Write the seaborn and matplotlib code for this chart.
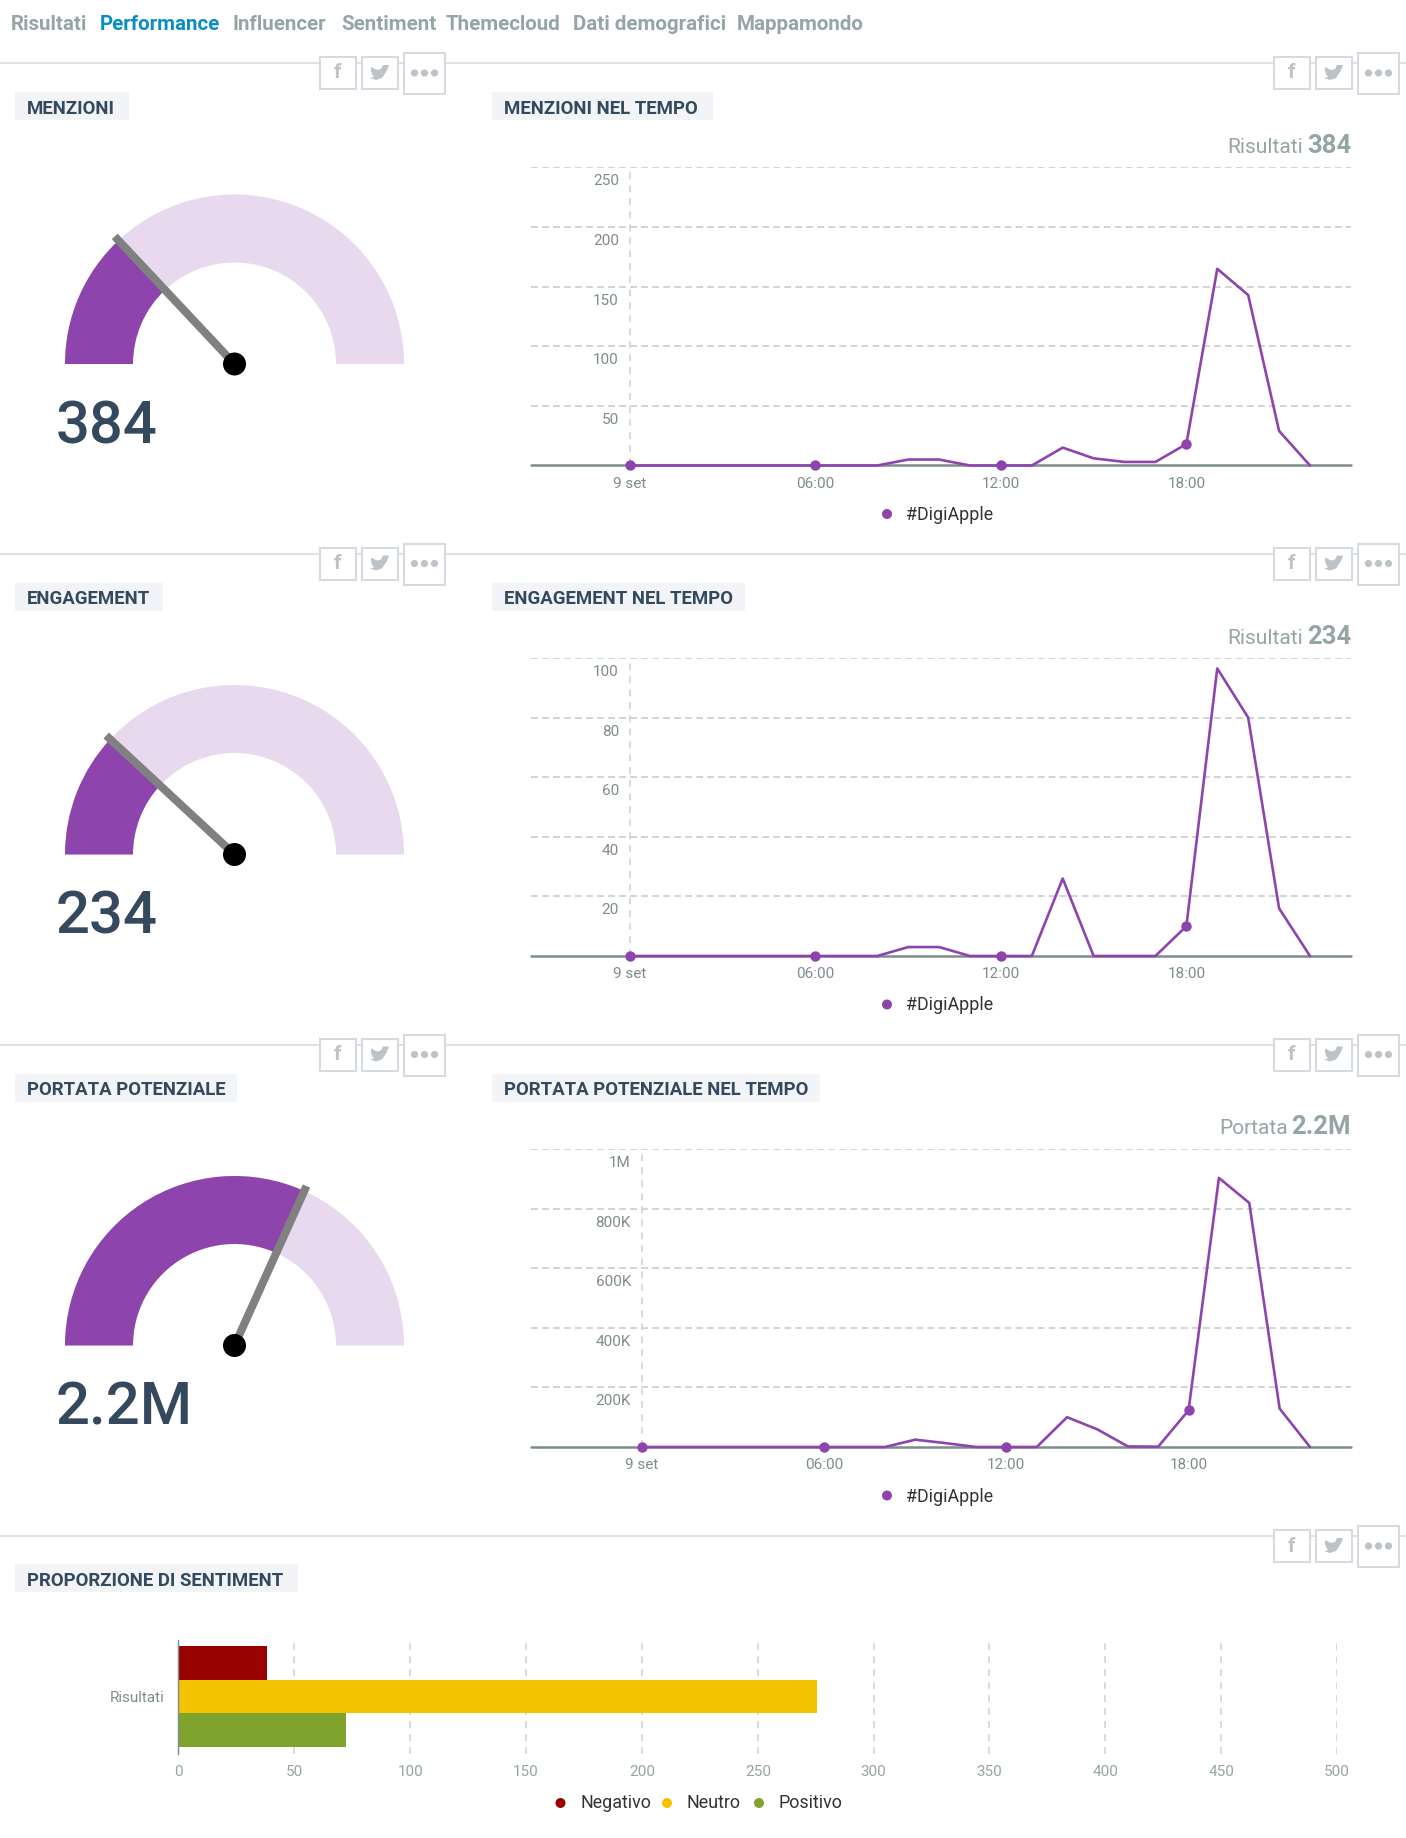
import numpy as np
import pandas as pd
import matplotlib
matplotlib.use('Agg')
import matplotlib.pyplot as plt
import seaborn as sns
from matplotlib.patches import Wedge, Rectangle, Circle, Polygon

# data
hours = list(range(23))
mentions = [0, 0, 0, 0, 0, 0, 0, 0, 0, 5, 5, 0, 0, 0, 15, 6, 3, 3, 18, 165, 143, 29, 0]
engagement = [0, 0, 0, 0, 0, 0, 0, 0, 0, 3, 3, 0, 0, 0, 26, 0, 0, 0, 10, 96.5, 80, 16, 0]
reach = [0, 0, 0, 0, 0, 0, 0, 0, 0, 24600, 13000, 0, 0, 0, 100000, 59000, 2000, 1000, 123000, 903000, 819000, 129000, 0]
hour_ticks = [0, 6, 12, 18]
hour_labels = ['9 set', '06:00', '12:00', '18:00']
mention_ticks = [0, 50, 100, 150, 200, 250]
mention_labels = ['', '50', '100', '150', '200', '250']
engagement_ticks = [0, 20, 40, 60, 80, 100]
engagement_labels = ['', '20', '40', '60', '80', '100']
reach_ticks = [0, 200000, 400000, 600000, 800000, 1000000]
reach_labels = ['', '200K', '400K', '600K', '800K', '1M']
totals = ['384', '234', '2.2M']
gauge_fracs = [0.26, 0.238, 0.635]
sections = ['MENZIONI', 'ENGAGEMENT', 'PORTATA POTENZIALE']
result_names = ['Risultati', 'Risultati', 'Portata']
tabs = ['Risultati', 'Performance', 'Influencer', 'Sentiment', 'Themecloud', 'Dati demografici', 'Mappamondo']
sentiments = ['Negativo', 'Neutro', 'Positivo']
sentiment_values = [38, 275.5, 72.5]
sentiment_ticks = list(range(0, 501, 50))

PURPLE = '#8e44ad'
NAVY = '#34495e'
GREY = '#95a5a6'
TICK = '#7f8c8d'
GRID = '#d0d0d0'
W, H = 1406, 1838

sns.set_theme(style='white')
plt.rcParams['font.family'] = ['Roboto', 'DejaVu Sans']

fig = plt.figure(figsize=(W / 100, H / 100), dpi=100)
bg = fig.add_axes([0, 0, 1, 1])
bg.set_xlim(0, W)
bg.set_ylim(H, 0)
bg.axis('off')


def px_axes(x0, y0, x1, y1):
    return fig.add_axes([x0 / W, 1 - y1 / H, (x1 - x0) / W, (y1 - y0) / H], facecolor='none')


def title_box(x0, x1, y, text):
    bg.add_patch(Rectangle((x0, y), x1 - x0, 28, color='#f2f4f7', lw=0))
    bg.text(x0 + 12.5, y + 16.5, text, color=NAVY, fontsize=13.4, weight='bold', va='center')


def share_icons(x, y):
    # x is the left edge of the "f" box
    for x0, w, y0, h in [(x, 36, y + 57, 32), (x + 42, 36, y + 57, 32), (x + 84, 41, y + 53, 41)]:
        bg.add_patch(Rectangle((x0, y0), w, h, fc='white', ec='#d5dbe0', lw=1.5, zorder=3))
    bg.text(x + 18, y + 73, 'f', color='#bdc3c7', fontsize=15, weight='bold', ha='center', va='center', zorder=4)
    bird = np.array([[-9, -5], [-3, -2], [1, -3], [3, -7], [7, -7], [9, -7], [8, -4], [6, 0], [2, 6],
                     [-4, 8], [-10, 6], [-6, 5], [-8, 2], [-9, -1]])
    bg.add_patch(Polygon(bird + [x + 60, y + 72], color='#bdc3c7', lw=0, zorder=4))
    for d in [-10, 0, 10]:
        bg.add_patch(Circle((x + 104.5 + d, y + 73), 3.6, color='#bdc3c7', lw=0, zorder=4))


def separator(y, left_icons=True):
    bg.plot([0, W], [y + 63, y + 63], color='#dfe3e6', lw=1.5, zorder=1)
    if left_icons:
        share_icons(320, y)
    share_icons(1274, y)


def gauge(y, frac, total):
    cx, cy = 234.5, y + 364
    R, r = 169.5, 101.5
    theta = 180 + 180 * frac
    bg.add_patch(Wedge((cx, cy), R, 180, 360, width=R - r, color='#e8d9ee', lw=0))
    bg.add_patch(Wedge((cx, cy), R, 180, theta, width=R - r, color=PURPLE, lw=0))
    L = 175
    bg.plot([cx, cx + L * np.cos(np.radians(theta))], [cy, cy + L * np.sin(np.radians(theta))],
            color='#808080', lw=5.8, solid_capstyle='butt', zorder=3)
    bg.add_patch(Circle((cx, cy), 11.5, color='black', lw=0, zorder=4))
    bg.text(56, y + 443, total, color=NAVY, fontsize=43, weight='medium', va='baseline', zorder=4)


def time_chart(y, values, ticks, labels, ymax, label_x, zero_x, name, name_right, total):
    ax = px_axes(531, y + 167.5, 1351, y + 465.5)
    per_hour = (1310 - zero_x) / 22
    ax.set_xlim((531 - zero_x) / per_hour, 22 + (1351 - 1310) / per_hour)
    ax.set_ylim(0, ymax)
    for t in ticks[1:]:
        ax.axhline(t, color=GRID, lw=1.3, dashes=(3.8, 2.3), zorder=1)
    ax.axvline(0, color=GRID, lw=1.1, dashes=(4.5, 4), zorder=1)
    ax.axhline(0, color=TICK, lw=1.8, zorder=2, clip_on=False)
    df = pd.DataFrame({'hour': hours, 'value': values})
    sns.lineplot(data=df, x='hour', y='value', ax=ax, color=PURPLE, lw=1.9, marker='o', ms=7.5, mew=0,
                 markevery=hour_ticks, clip_on=False, zorder=3)
    ax.set_xticks(hour_ticks, hour_labels)
    ax.tick_params(axis='x', length=0, pad=8, labelsize=11, labelcolor=TICK)
    ax.set_yticks([])
    ax.set_xlabel('')
    ax.set_ylabel('')
    sns.despine(ax=ax, left=True, bottom=True)
    for t, lab in zip(ticks, labels):
        ax.annotate(lab, (0, t), xycoords=ax.get_yaxis_transform(), xytext=(label_x - 531, -14),
                    textcoords='offset pixels', ha='right', va='center', fontsize=11, color=TICK)
    # legend and counter sit on the page
    bg.add_patch(Circle((887, y + 514), 5, color=PURPLE, lw=0))
    bg.text(906, y + 515, '#DigiApple', color='#333333', fontsize=12.9, va='center')
    bg.text(1351, y + 153, total, color=GREY, fontsize=18.5, weight='bold', ha='right', va='baseline')
    bg.text(name_right, y + 153, name, color=GREY, fontsize=15, ha='right', va='baseline')


# top tabs
tab_x = [11, 99.5, 232.7, 341, 446, 572.6, 737]
for tx, lab in zip(tab_x, tabs):
    col = '#0a8ec2' if lab == 'Performance' else GREY
    bg.text(tx, 30, lab, color=col, fontsize=14.8, weight='bold', va='baseline')

offsets = [0, 490.5, 981.5]
chart_args = [
    (mentions, mention_ticks, mention_labels, 250, 619, 630),
    (engagement, engagement_ticks, engagement_labels, 100, 619, 630),
    (reach, reach_ticks, reach_labels, 1000000, 631, 642),
]
name_right = [1303, 1303, 1288]
box_right = [(129, 712.7), (163, 745), (237, 820)]
for i, y in enumerate(offsets):
    separator(y)
    title_box(14.5, box_right[i][0], y + 92, sections[i])
    title_box(491.5, box_right[i][1], y + 92, sections[i] + ' NEL TEMPO')
    gauge(y, gauge_fracs[i], totals[i])
    time_chart(y, *chart_args[i], result_names[i], name_right[i], totals[i])

# sentiment bars
y4 = 1473
separator(y4, left_icons=False)
title_box(14.5, 298, y4 + 91, 'PROPORZIONE DI SENTIMENT')
ax = px_axes(178.5, 1639.5, 1337, 1753.5)
df = pd.DataFrame({'group': ['Risultati'] * 3, 'sentiment': sentiments, 'value': sentiment_values})
sent_colors = ['#990000', '#f3c300', '#80a32e']
sns.barplot(data=df, x='value', y='group', hue='sentiment', palette=sent_colors, ax=ax, width=0.89,
            gap=0, saturation=1, legend=False, zorder=3, linewidth=0)
ax.set_xlim(0, 500)
ax.set_xticks(sentiment_ticks)
ax.tick_params(axis='x', length=0, pad=8.5, labelsize=11, labelcolor=GREY)
ax.tick_params(axis='y', length=0, pad=10, labelsize=11, labelcolor=TICK)
ax.set_xlabel('')
ax.set_ylabel('')
for t in sentiment_ticks[1:]:
    ax.axvline(t, color=GRID, lw=1.1, dashes=(4.5, 4), zorder=1)
sns.despine(ax=ax, right=True, top=True, bottom=True)
ax.spines['left'].set_color(TICK)
ax.spines['left'].set_linewidth(1)
ax.spines['left'].set_zorder(5)

for mx, tx, lab, col in zip([560.5, 667, 759], [580, 687, 778], sentiments, sent_colors):
    bg.add_patch(Circle((mx, 1803), 5, color=col, lw=0))
    bg.text(tx, 1803, lab, color='#333333', fontsize=12.9, va='center')

fig.savefig('out.png', dpi=100)
